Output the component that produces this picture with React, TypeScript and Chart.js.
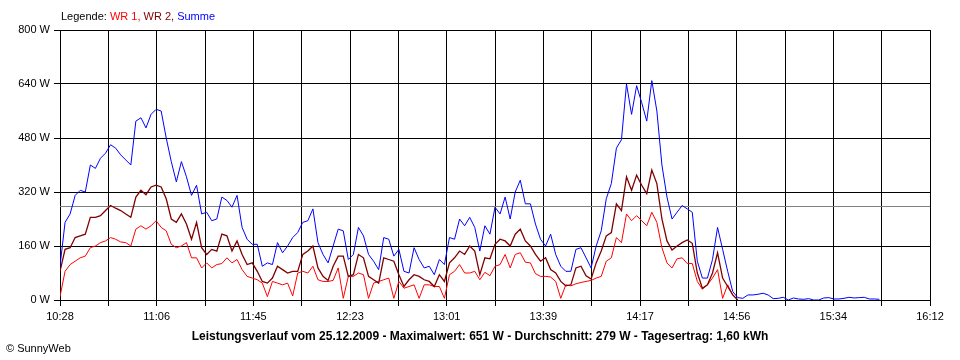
import React, { useEffect, useRef } from 'react';
import { Chart, registerables } from 'chart.js';

Chart.register(...registerables);

// minutes after 10:28 between two samples
const STEP_MIN = 2;
// span of the x axis in minutes (10:28 .. 16:12)
const SPAN_MIN = 344;
const xTickLabels = ['10:28', '11:06', '11:45', '12:23', '13:01', '13:39', '14:17', '14:56', '15:34', '16:12'];
const yTickValues = [0, 160, 320, 480, 640, 800];
const AVERAGE_W = 279;

const legendParts = [
  { text: 'Legende: ', color: '#000000' },
  { text: 'WR 1,', color: '#ff0000' },
  { text: ' WR 2,', color: '#800000' },
  { text: ' Summe', color: '#0000ff' },
];
const bottomTitle = 'Leistungsverlauf vom 25.12.2009 - Maximalwert: 651 W - Durchschnitt: 279 W - Tagesertrag: 1,60 kWh';
const copyright = '\u00A9 SunnyWeb';

// WR 1 (W), every 2 minutes from 10:28
const wr1 = [
  10, 85, 105, 115, 125, 130, 155, 160, 170, 175, 185, 180, 172, 170, 160, 210, 220, 210, 220, 235, 215, 205, 165, 155, 160, 170, 125, 125,
  95, 110, 95, 105, 108, 125, 110, 120, 90, 70, 65, 60, 50, 10, 55, 50, 45, 50, 12, 80, 85, 80, 100, 60, 55, 55, 58,
  95, 5, 70, 70, 80, 75, 5, 50, 55, 60, 65, 5, 55, 35, 40, 45, 5, 45, 45, 40, 40, 5, 75, 85, 105, 80, 80, 85,
  60, 82, 72, 100, 105, 135, 95, 135, 140, 112, 110, 78, 70, 70, 68, 55, 5, 45, 42, 48, 52, 55, 58, 65, 70, 115, 125,
  185, 170, 255, 235, 250, 235, 220, 260, 230, 155, 110, 95, 122, 125, 108, 108, 55, 32, 45, 65, 90, 5, 45, 15, 0,
];

// WR 2 (W)
const wr2 = [
  85, 150, 155, 185, 190, 195, 245, 245, 250, 265, 280, 272, 265, 255, 245, 305, 325, 312, 335, 340, 335, 300, 240, 230, 255, 225, 180, 230,
  155, 135, 150, 145, 195, 190, 145, 175, 135, 105, 110, 85, 55, 50, 65, 100, 90, 80, 85, 85, 135, 145, 160, 95, 70, 58, 100,
  130, 130, 70, 75, 135, 125, 70, 60, 50, 125, 120, 115, 75, 40, 60, 75, 70, 60, 55, 40, 75, 55, 110, 125, 145, 135, 160, 145,
  75, 125, 122, 165, 180, 175, 160, 195, 210, 175, 160, 135, 115, 125, 90, 80, 55, 42, 45, 95, 100, 72, 62, 110, 145, 190, 200,
  285, 265, 365, 325, 370, 340, 315, 385, 345, 240, 175, 148, 160, 170, 178, 168, 80, 35, 45, 80, 140, 65, 40, 15, 0,
];

// Summe (W)
const summe = [
  100, 230, 255, 310, 325, 320, 400, 390, 420, 435, 460, 450, 430, 415, 400, 530, 540, 510, 550, 565, 560, 480, 410, 350, 410, 365, 310, 340,
  255, 260, 235, 240, 305, 295, 275, 310, 215, 180, 165, 165, 100, 110, 105, 170, 140, 160, 185, 200, 230, 235, 270, 170, 135, 110, 160,
  210, 205, 120, 135, 215, 190, 135, 115, 90, 185, 180, 130, 150, 85, 80, 155, 120, 95, 100, 75, 120, 105, 185, 180, 240, 220, 245, 215,
  145, 220, 195, 275, 255, 305, 240, 320, 355, 285, 285, 225, 180, 160, 195, 135, 100, 85, 85, 150, 155, 125, 95, 160, 205, 300, 345,
  450, 475, 640, 550, 635, 585, 530, 650, 560, 400, 305, 240, 260, 280, 270, 260, 115, 65, 65, 120, 215, 150, 85, 25, 7,
  5, 15, 15, 17, 20, 15, 4, 5, 8, 0, 6, 3, 2, 4, 0, 0, 6, 7, 3, 3, 5, 8, 6, 7, 8, 3, 3, 2,
];

const toPoints = (arr: number[]) => arr.map((v, i) => ({ x: i * STEP_MIN, y: v }));

const FONT = 'Liberation Sans';

const decorPlugin = {
  id: 'decor',
  beforeDatasetsDraw(chart: any) {
    const { ctx, chartArea, scales } = chart;
    const y = Math.round(scales.y.getPixelForValue(AVERAGE_W)) + 0.5;
    ctx.save();
    ctx.strokeStyle = '#808080';
    ctx.lineWidth = 1;
    ctx.beginPath();
    ctx.moveTo(chartArea.left, y);
    ctx.lineTo(chartArea.right, y);
    ctx.stroke();
    ctx.restore();
  },
  afterDraw(chart: any) {
    const { ctx } = chart;
    ctx.save();
    ctx.textBaseline = 'middle';
    ctx.font = `11px "${FONT}"`;
    let x = 61;
    for (const p of legendParts) {
      ctx.fillStyle = p.color;
      ctx.textAlign = 'left';
      ctx.fillText(p.text, x, 17);
      x += ctx.measureText(p.text).width;
    }
    ctx.fillStyle = '#000';
    ctx.font = `bold 12px "${FONT}"`;
    ctx.textAlign = 'center';
    ctx.fillText(bottomTitle, 480, 337);
    ctx.font = `11px "${FONT}"`;
    ctx.textAlign = 'left';
    ctx.fillText(copyright, 6, 349);
    ctx.restore();
  },
};

export default function App() {
  const ref = useRef<HTMLCanvasElement | null>(null);

  useEffect(() => {
    document.body.style.margin = '0';
    const canvas = ref.current;
    if (!canvas) return;
    const chart = new Chart(canvas, {
      type: 'line',
      data: {
        datasets: [
          {
            label: 'Summe',
            data: toPoints(summe),
            borderColor: '#0000ff',
            borderWidth: 1,
            pointRadius: 0,
            tension: 0,
            order: 0,
          },
          {
            label: 'WR 2',
            data: toPoints(wr2),
            borderColor: '#800000',
            borderWidth: 1.3,
            pointRadius: 0,
            tension: 0,
            order: 1,
          },
          {
            label: 'WR 1',
            data: toPoints(wr1),
            borderColor: '#ff0000',
            borderWidth: 1,
            pointRadius: 0,
            tension: 0,
            order: 2,
          },
        ],
      },
      options: {
        animation: false,
        responsive: false,
        maintainAspectRatio: false,
        devicePixelRatio: 1,
        layout: { padding: { top: 30, right: 30, left: 0, bottom: 0 } },
        plugins: { legend: { display: false }, tooltip: { enabled: false }, title: { display: false } },
        scales: {
          x: {
            type: 'linear',
            min: 0,
            max: SPAN_MIN,
            afterBuildTicks: (scale: any) => {
              scale.ticks = Array.from({ length: 19 }, (_, i) => ({ value: (i * SPAN_MIN) / 18 }));
            },
            afterFit: (scale: any) => {
              scale.height = 60;
            },
            ticks: {
              autoSkip: false,
              maxRotation: 0,
              minRotation: 0,
              color: '#000',
              padding: 4,
              font: { family: FONT, size: 11 },
              callback: (_v: any, i: number) => (i % 2 === 0 ? xTickLabels[i / 2] : ''),
            },
            grid: { color: '#000', lineWidth: 1, tickLength: 6, drawTicks: true, tickColor: '#000' },
            border: { display: true, color: '#000', width: 1 },
          },
          y: {
            min: 0,
            max: 800,
            afterBuildTicks: (scale: any) => {
              scale.ticks = yTickValues.map((v) => ({ value: v }));
            },
            afterFit: (scale: any) => {
              scale.width = 60;
            },
            ticks: {
              color: '#000',
              padding: 4,
              font: { family: FONT, size: 11 },
              callback: (v: any) => `${v} W`,
            },
            grid: { color: '#000', lineWidth: 1, tickLength: 6, drawTicks: true, tickColor: '#000' },
            border: { display: true, color: '#000', width: 1 },
          },
        },
      },
      plugins: [decorPlugin],
    });
    return () => chart.destroy();
  }, []);

  return (
    <div style={{ width: 960, height: 360, background: '#fff' }}>
      <canvas ref={ref} width={960} height={360} style={{ display: 'block', width: 960, height: 360 }} />
    </div>
  );
}
